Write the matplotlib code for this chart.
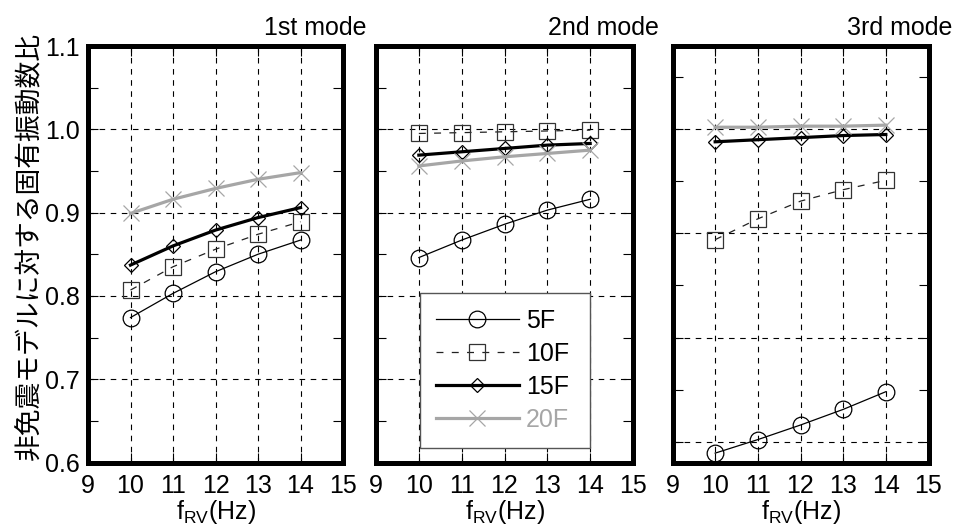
import numpy as np
import matplotlib
matplotlib.use("Agg")
import matplotlib.pyplot as plt
from matplotlib.ticker import MultipleLocator, NullFormatter

plt.rcParams['font.family'] = ['Liberation Sans', 'Noto Sans CJK JP', 'DejaVu Sans']
plt.rcParams['mathtext.fontset'] = 'custom'
plt.rcParams['mathtext.rm'] = 'Liberation Sans'
plt.rcParams['mathtext.it'] = 'Liberation Sans'
plt.rcParams['lines.scale_dashes'] = False

# Natural frequency ratio against the non-isolated model
freq = [10, 11, 12, 13, 14]
series_names = ['5F', '10F', '15F', '20F']
mode_titles = ['1st mode', '2nd mode', '3rd mode']

mode1_5F = [0.774, 0.803, 0.829, 0.850, 0.867]
mode1_10F = [0.807, 0.835, 0.856, 0.874, 0.889]
mode1_15F = [0.837, 0.860, 0.879, 0.894, 0.906]
mode1_20F = [0.899, 0.916, 0.929, 0.940, 0.948]

mode2_5F = [0.846, 0.867, 0.886, 0.903, 0.916]
mode2_10F = [0.995, 0.996, 0.997, 0.998, 0.999]
mode2_15F = [0.969, 0.973, 0.977, 0.981, 0.983]
mode2_20F = [0.956, 0.962, 0.967, 0.971, 0.975]

mode3_5F = [0.689, 0.702, 0.716, 0.731, 0.748]
mode3_10F = [0.894, 0.914, 0.931, 0.942, 0.951]
mode3_15F = [0.988, 0.990, 0.992, 0.994, 0.995]
mode3_20F = [1.002, 1.002, 1.003, 1.003, 1.004]

modes = [
    [mode1_5F, mode1_10F, mode1_15F, mode1_20F],
    [mode2_5F, mode2_10F, mode2_15F, mode2_20F],
    [mode3_5F, mode3_10F, mode3_15F, mode3_20F],
]
ylims = [(0.6, 1.1), (0.6, 1.1), (0.68, 1.08)]

GRAY = '#a6a6a6'
styles = [
    dict(color='black', lw=0.9, ls='-', marker='o', ms=12, mfc='none', mec='black', mew=0.9),
    dict(color='#222222', lw=0.9, ls=(0, (5, 6)), marker='s', ms=11, mfc='none', mec='#333333', mew=0.9),
    dict(color='black', lw=2.3, ls='-', marker='D', ms=7, mfc='none', mec='black', mew=0.9),
    dict(color=GRAY, lw=2.3, ls='-', marker='x', ms=12, mfc='none', mec=GRAY, mew=0.9),
]

FS = 18
W, H = 960, 529
fig = plt.figure(figsize=(W / 100, H / 100), dpi=100)

lefts = [88, 376, 672.5]
widths = [255, 257, 256]
top_px, bot_px = 46, 462.5

axes = []
for i in range(3):
    ax = fig.add_axes([lefts[i] / W, (H - bot_px) / H, widths[i] / W, (bot_px - top_px) / H])
    axes.append(ax)
    ax.set_axisbelow(True)
    for j, vals in enumerate(modes[i]):
        ax.plot(freq, vals, label=series_names[j], **styles[j])
    ax.set_xlim(9, 15)
    ax.set_ylim(*ylims[i])
    ax.xaxis.set_major_locator(MultipleLocator(1))
    ax.yaxis.set_major_locator(MultipleLocator(0.1))
    ax.yaxis.set_minor_locator(MultipleLocator(0.1, offset=0.05))
    ax.yaxis.set_minor_formatter(NullFormatter())
    ax.grid(True, which='major', color='black', lw=0.8, ls=(0, (4, 4)))
    ax.tick_params(which='both', direction='in', top=True, right=True,
                   length=7, width=0.8, labelsize=FS)
    ax.tick_params(axis='x', pad=8)
    ax.tick_params(axis='y', pad=6)
    for sp in ax.spines.values():
        sp.set_linewidth(3.6)
    if i == 0:
        ax.set_yticklabels([f'{v:.1f}' for v in ax.get_yticks()])
    else:
        ax.yaxis.set_major_formatter(NullFormatter())
    ax.set_xlabel(r'f$_{\mathrm{RV}}$(Hz)', fontsize=FS, labelpad=0)
    ax.text(227 / widths[i], 1 + 11 / (bot_px - top_px), mode_titles[i],
            transform=ax.transAxes, ha='center', va='baseline', fontsize=FS)

axes[0].set_ylabel('非免震モデルに対する固有振動数比', fontsize=19.3,
                   family=['Noto Sans CJK JP'])
axes[0].yaxis.set_label_coords(-0.176, 0.52)

leg = axes[1].legend(loc='upper left', bbox_to_anchor=(0.171, 0.407, 0.662, 0.0),
                     mode='expand', fontsize=FS, handlelength=3.3, handletextpad=0.3,
                     labelspacing=0.36, borderpad=0.65, fancybox=False, framealpha=1,
                     edgecolor='#555555', borderaxespad=0)
leg.get_frame().set_linewidth(1.0)
leg.get_texts()[3].set_color(GRAY)

fig.savefig('out.png', dpi=100)
